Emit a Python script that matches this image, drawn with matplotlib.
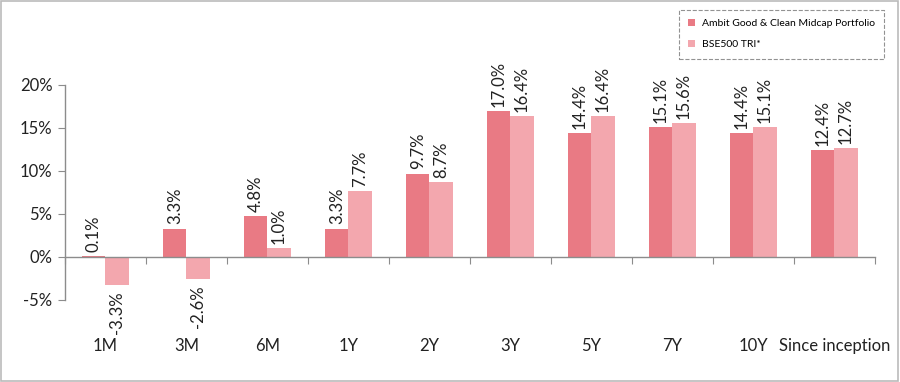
import numpy as np
import matplotlib.pyplot as plt
from matplotlib.patches import Rectangle

categories = ["1M", "3M", "6M", "1Y", "2Y", "3Y", "5Y", "7Y", "10Y", "Since inception"]
portfolio = [0.1, 3.3, 4.8, 3.3, 9.7, 17.0, 14.4, 15.1, 14.4, 12.4]
benchmark = [-3.3, -2.6, 1.0, 7.7, 8.7, 16.4, 16.4, 15.6, 15.1, 12.7]
series_names = ["Ambit Good & Clean Midcap Portfolio", "BSE500 TRI*"]

DARK = "#E97A84"; LIGHT = "#F3A7AE"; AX = "#8C8C8C"; INK = "#222222"
plt.rcParams["font.family"] = "Lato"

fig = plt.figure(figsize=(9, 3.82), dpi=100)
ax = fig.add_axes([0.0722, 0.2147, 0.9, 0.5628])
x = np.arange(len(categories))
w = 0.285
b1 = ax.bar(x - w/2, portfolio, w, color=DARK, label=series_names[0])
b2 = ax.bar(x + w/2, benchmark, w, color=LIGHT, label=series_names[1])

for bars, vals in ((b1, portfolio), (b2, benchmark)):
    for r, v in zip(bars, vals):
        cx = r.get_x() + r.get_width()/2
        if v >= 0:
            ax.annotate(f"{v:.1f}%", (cx, v), xytext=(0, 3), textcoords="offset points",
                        rotation=90, ha="center", va="bottom", fontsize=12, color=INK)
        else:
            ax.annotate(f"{v:.1f}%", (cx, v), xytext=(0, -4), textcoords="offset points",
                        rotation=90, ha="center", va="top", fontsize=12, color=INK)

ax.set_xlim(-0.5, len(categories) - 0.5)
ax.set_ylim(-5, 20)
ax.set_yticks([-5, 0, 5, 10, 15, 20])
ax.set_yticklabels([f"{t}%" for t in [-5, 0, 5, 10, 15, 20]], fontsize=12, color=INK)
ax.set_xticks(np.arange(len(categories) + 1) - 0.5)
ax.set_xticklabels([])
ax.tick_params(axis="x", length=5, color=AX, direction="out")
ax.tick_params(axis="y", length=5, color=AX, direction="out", pad=4)
for s in ["top", "right"]:
    ax.spines[s].set_visible(False)
ax.spines["bottom"].set_position(("data", 0))
ax.spines["bottom"].set_color(AX)
ax.spines["left"].set_color(AX)
for s in ["bottom", "left"]:
    ax.spines[s].set_linewidth(1.0)

trans = ax.get_xaxis_transform()
for i, c in enumerate(categories):
    ax.text(i, -0.215, c, transform=trans, ha="center", va="center", fontsize=12, color=INK)

leg = fig.legend(handles=[b1, b2], loc="upper right", bbox_to_anchor=(0.988, 0.988),
                 fontsize=7.5, frameon=True, fancybox=False, handlelength=0.7, handleheight=0.7,
                 labelspacing=1.1, borderpad=0.9, handletextpad=0.6)
leg.get_frame().set_edgecolor("#777777")
leg.get_frame().set_linestyle("--")
leg.get_frame().set_linewidth(0.8)

fig.patches.append(Rectangle((0.001, 0.002), 0.997, 0.996, transform=fig.transFigure,
                             fill=False, edgecolor="#BBBBBB", linewidth=1.2))
fig.savefig("out.png", dpi=100)
